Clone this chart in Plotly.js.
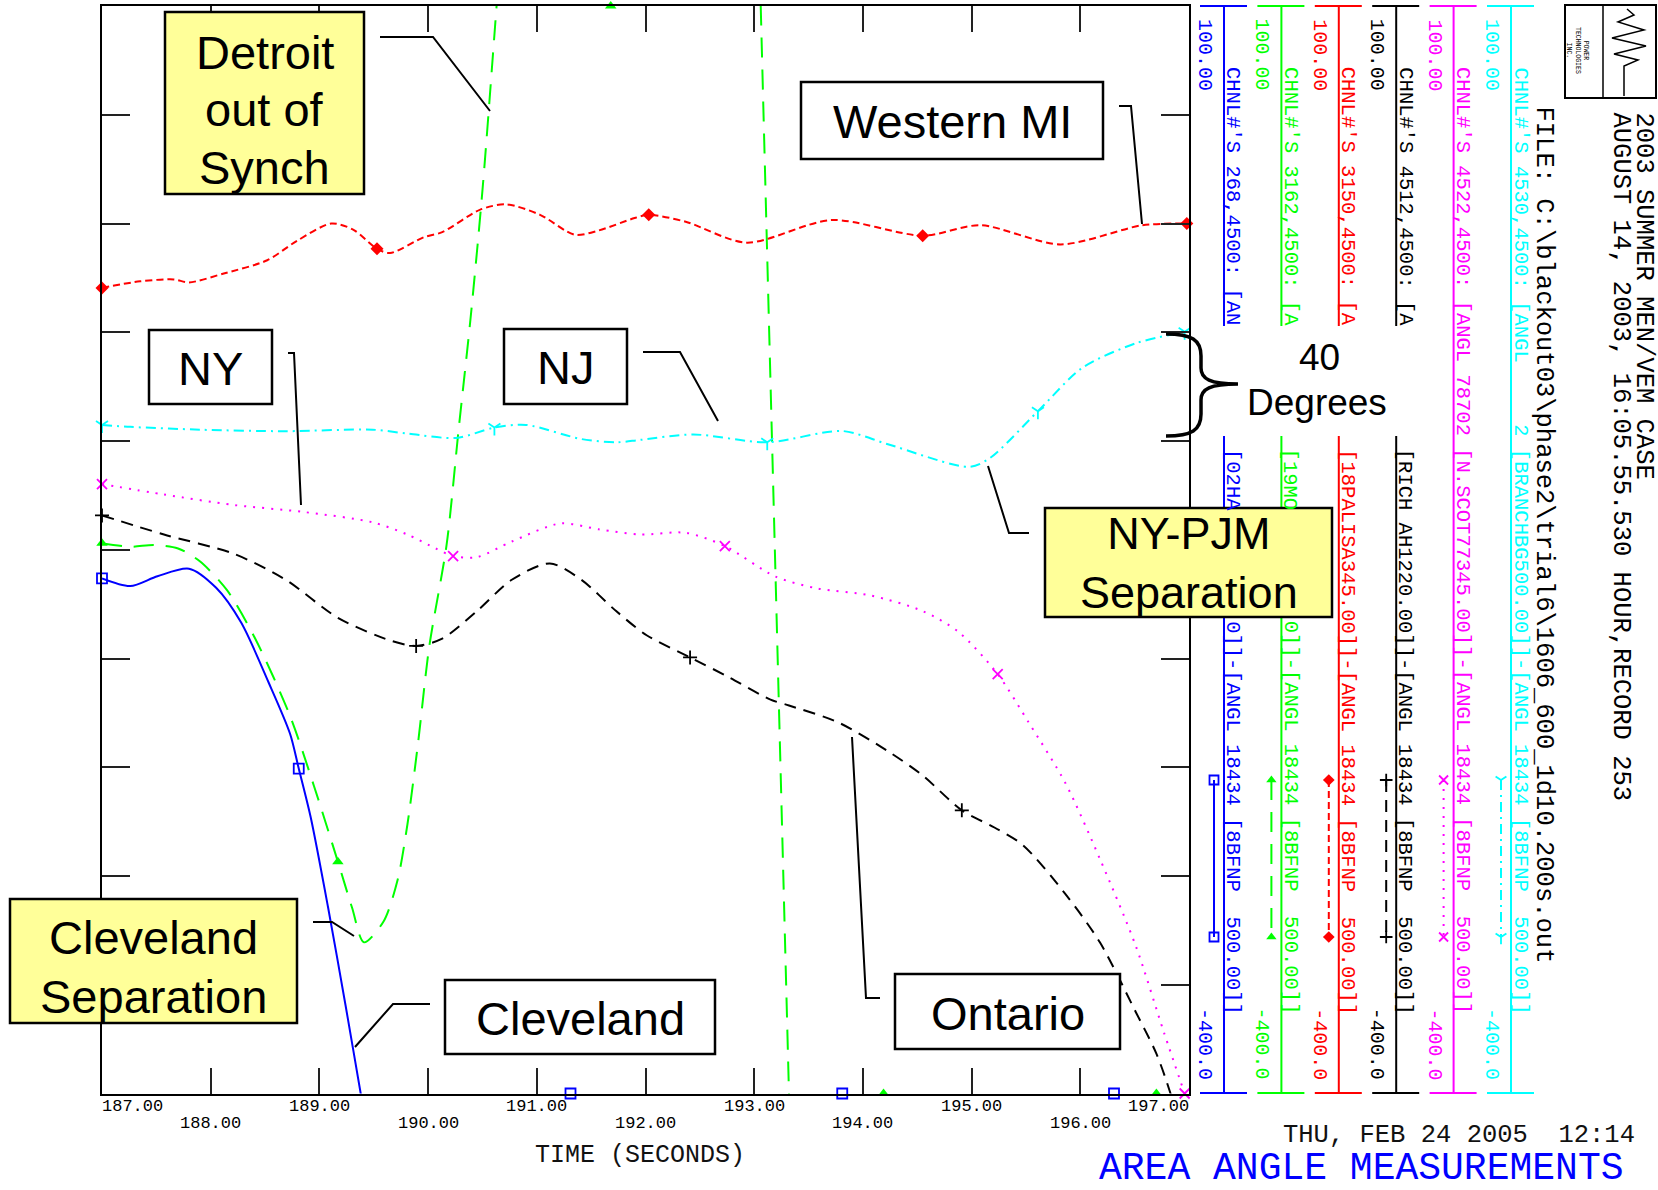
<!DOCTYPE html>
<html>
<head>
<meta charset="utf-8">
<title>Area Angle Measurements</title>
<script src="https://cdn.plot.ly/plotly-3.0.1.min.js"></script>
<style>
  html, body { margin: 0; padding: 0; background: #ffffff; }
  #plot { width: 1658px; height: 1190px; }
</style>
</head>
<body>
<div id="plot"></div>
<script>
// ---------- time axis (seconds) ----------
const timeTicks = [187, 188, 189, 190, 191, 192, 193, 194, 195, 196, 197];
const angleRange = [-400, 100];

// ---------- bus angle channels: time (s) / angle (deg) ----------
// Cleveland  (CHNL 268)
const clevelandT = [187.00, 187.26, 187.51, 187.80, 188.05, 188.28, 188.53, 188.73, 188.81, 188.92, 189.08, 189.24, 189.38, 189.50, 190.30, 191.31, 193.81, 196.31, 197.00];
const clevelandV = [-163.2, -166.7, -162.2, -158.7, -167.5, -183.5, -210.7, -234.6, -250.6, -273.0, -314.5, -359.3, -400.0, -435, -560, -650, -820, -950, -980];
const clevelandMarks = [187.00, 188.81, 191.31, 193.81, 196.31];

// Detroit  (CHNL 3162)
const detroitT = [187.00, 187.26, 187.48, 187.70, 187.90, 188.15, 188.41, 188.73, 188.95, 189.17, 189.30, 189.41, 189.59, 189.72, 189.81, 189.91, 190.01, 190.17, 190.28, 190.39, 190.50, 190.63, 190.90, 191.68, 192.50, 192.98, 193.06, 193.19, 193.32, 193.40, 194.19, 196.70, 197.00];
const detroitV = [-147.0, -148.6, -147.8, -149.4, -155.3, -168.6, -190.9, -226.4, -258.6, -293.4, -314.5, -330.5, -320.9, -301.7, -276.2, -237.8, -194.7, -147.8, -95.1, -43.9, 15.2, 100.0, 280, 330, 320, 254, 100.0, -150, -400.0, -554, -700, -900, -930];
const detroitMarks = [187.00, 189.17, 191.68, 194.19, 196.70];

// Western MI  (CHNL 3150)
const westernMiT = [187.00, 187.35, 187.66, 187.80, 188.12, 188.52, 188.79, 189.11, 189.31, 189.53, 189.65, 189.96, 190.13, 190.48, 190.72, 191.03, 191.35, 191.57, 191.90, 192.03, 192.37, 192.93, 193.71, 194.55, 195.08, 195.82, 196.57, 196.98];
const westernMiV = [-29.6, -26.6, -25.7, -27.1, -23.0, -16.9, -8.1, 0.0, -2.8, -11.6, -13.6, -6.3, -4.0, 6.4, 8.8, 4.0, -5.2, -3.2, 2.5, 4.0, 0.8, -8.8, 1.6, -5.6, -0.8, -9.6, -0.8, 0.0];
const westernMiMarks = [187.00, 189.53, 192.03, 194.55, 196.98];

// Ontario  (CHNL 4512)
const ontarioT = [187.00, 187.57, 188.21, 188.69, 189.17, 189.65, 189.89, 190.13, 190.45, 190.77, 191.12, 191.41, 191.73, 192.01, 192.41, 192.76, 193.15, 193.32, 193.77, 194.23, 194.55, 194.91, 195.21, 195.47, 195.86, 196.18, 196.51, 196.70, 196.83, 197.00];
const ontarioV = [-134.2, -143.0, -151.8, -163.8, -181.3, -191.7, -194.2, -190.9, -178.2, -163.8, -156.3, -163.8, -178.2, -189.3, -199.5, -208.4, -218.9, -221.6, -229.3, -242.6, -253.8, -269.8, -277.7, -285.7, -308.1, -330.5, -362.5, -381.7, -400.0, -430];
const ontarioMarks = [187.00, 189.89, 192.41, 194.91];

// NY  (CHNL 4522)
const nyT = [187.00, 187.57, 188.21, 188.85, 189.49, 189.81, 190.07, 190.23, 190.45, 190.77, 191.22, 191.57, 191.95, 192.37, 192.73, 193.19, 193.58, 194.07, 194.55, 194.88, 195.24, 195.53, 195.86, 196.18, 196.51, 196.77, 196.96];
const nyV = [-119.8, -124.6, -129.4, -132.6, -137.4, -143.0, -149.4, -152.9, -153.4, -146.2, -137.9, -140.6, -143.0, -142.2, -148.3, -162.2, -167.8, -171.0, -178.2, -187.8, -207.2, -229.8, -257.0, -292.1, -332.1, -372.0, -400.0];
const nyMarks = [187.00, 190.23, 192.73, 195.24, 196.96];

// NJ  (CHNL 4530)
const njT = [187.00, 187.26, 187.90, 188.69, 189.49, 189.81, 190.26, 190.61, 190.90, 191.41, 191.73, 191.95, 192.44, 193.12, 193.81, 194.23, 194.98, 195.17, 195.61, 196.02, 196.51, 196.96];
const njV = [-92.6, -93.5, -94.8, -95.5, -94.8, -96.6, -98.6, -93.8, -92.6, -99.1, -100.6, -99.5, -97.0, -100.6, -95.4, -101.5, -111.9, -107.8, -86.3, -66.3, -55.1, -49.8];
const njMarks = [187.00, 190.61, 193.12, 195.61, 196.96];

// ---------- channel styling and scale captions ----------
const channelColors  = ['#0000ff', '#00ff00', '#ff0000', '#000000', '#ff00ff', '#00ffff'];
const channelDash    = ['solid', '20px,12px', '7px,4px', '12px,8px', '2px,7px', '10px,5px,2px,5px'];
const channelSymbols = ['square-open', 'triangle-up', 'diamond', 'cross-thin-open', 'x-thin-open', 'y-down-open'];
const scaleTopLabel = '100.00';
const scaleBottomLabel = '-400.0';
const NB = '\u00a0';
const tailCommon = '-[ANGL 18434 [8BFNP' + NB + NB + '500.00]]';
const channelHeads = [
  "CHNL#'S 268,4500: [AN",
  "CHNL#'S 3162,4500: [A",
  "CHNL#'S 3150,4500: [A",
  "CHNL#'S 4512,4500: [A",
  "CHNL#'S 4522,4500: [ANGL 78702 [N.SCOT77345.00]]" + tailCommon,
  "CHNL#'S 4530,4500: [ANGL" + NB + NB + NB + NB + NB + "2 [BRANCHBG500.00]]" + tailCommon
];
// pieces of the lower caption: [text, character offset]
const channelTails = [
  [['[02HA', 0], ['0]]' + tailCommon, 14]],
  [['[19MO', 0], ['0]]' + tailCommon, 14]],
  [['[18PALISA345.00]]' + tailCommon, 0]],
  [['[RICH AH1220.00]]' + tailCommon, 0]],
  [],
  []
];

// ---------- header / footer text ----------
const headerLines = [
  '2003 SUMMER MEN/VEM CASE',
  'AUGUST 14, 2003, 16:05.55.530 HOUR,RECORD 253',
  'FILE: C:\\blackout03\\phase2\\trial6\\1606_600_1d10.200s.out'
];
const footerDate = 'THU, FEB 24 2005' + NB + NB + '12:14';
const chartTitle = 'AREA ANGLE MEASUREMENTS';
const xTitle = 'TIME (SECONDS)';
const logoText = 'POWER<br>TECHNOLOGIES<br>INC.';

// ---------- callouts (one text block per box) ----------
const callouts = [
  { text: 'Detroit', y: 52.6, size: 47, box: [165, 12, 364, 194], fill: '#ffff99', leader: [[380, 37], [433, 37], [490, 111]] },
  { text: 'out of', y: 109.5, size: 47, box: null },
  { text: 'Synch', y: 167.3, size: 47, box: null },
  { text: 'Western MI', y: 121, size: 47, box: [801, 82, 1103, 159], fill: '#ffffff', leader: [[1119, 106], [1131, 106], [1142, 224]] },
  { text: 'NY', y: 368, size: 47, box: [149, 330, 272, 404], fill: '#ffffff', leader: [[288, 353], [294, 353], [301, 505]] },
  { text: 'NJ', y: 367, size: 47, box: [504, 329, 627, 404], fill: '#ffffff', leader: [[643, 352], [680, 352], [718, 421]] },
  { text: 'NY-PJM<br>Separation', y: 563, size: 45, box: [1045, 508, 1332, 617], fill: '#ffff99', leader: [[1029, 533], [1009, 533], [988, 466]] },
  { text: 'Cleveland', y: 937, size: 47, box: [10, 899, 297, 1023], fill: '#ffff99', leader: [[313, 922], [332, 922], [354, 936]] },
  { text: 'Separation', y: 996, size: 47, box: null },
  { text: 'Cleveland', y: 1018, size: 47, box: [445, 980, 715, 1054], fill: '#ffffff', leader: [[430, 1004], [393, 1004], [355, 1047]] },
  { text: 'Ontario', y: 1013, size: 47, box: [895, 974, 1120, 1049], fill: '#ffffff', leader: [[880, 998], [866, 998], [852, 737]] }
];

// ---------- geometry of the page (pixels) ----------
const FW = 1658, FH = 1190;
const PL = 102, PR = 1189, PT = 6, PB = 1093.5;
const colX0 = 1224, colStep = 57.4;
const MONO = 'Liberation Mono, Courier New, DejaVu Sans Mono, monospace';
const SANS = 'Liberation Sans, Arial, Helvetica, sans-serif';
const capSize = 20.5, capW = capSize * 0.6;

const series = [
  { t: clevelandT, v: clevelandV, marks: clevelandMarks },
  { t: detroitT, v: detroitV, marks: detroitMarks },
  { t: westernMiT, v: westernMiV, marks: westernMiMarks },
  { t: ontarioT, v: ontarioV, marks: ontarioMarks },
  { t: nyT, v: nyV, marks: nyMarks },
  { t: njT, v: njV, marks: njMarks }
];

const clampAngle = v => Math.max(angleRange[0], Math.min(angleRange[1], v));

function markerStyle(i, size) {
  const c = channelColors[i];
  const filled = channelSymbols[i] === 'triangle-up' || channelSymbols[i] === 'diamond';
  return {
    symbol: channelSymbols[i], size: size, color: c,
    line: { color: c, width: filled ? 0 : 1.8 }
  };
}

const traces = [];
series.forEach((s, i) => {
  traces.push({
    x: s.t, y: s.v, xaxis: 'x', yaxis: 'y', type: 'scatter', mode: 'lines',
    line: { color: channelColors[i], width: 2, dash: channelDash[i], shape: 'spline', smoothing: 0.8 },
    hoverinfo: 'skip', showlegend: false
  });
  // off-scale markers are pinned to the frame edge
  traces.push({
    x: s.marks, y: s.marks.map(t => clampAngle(s.v[s.t.indexOf(t)])),
    xaxis: 'x', yaxis: 'y', type: 'scatter', mode: 'markers',
    marker: markerStyle(i, 10), cliponaxis: false, hoverinfo: 'skip', showlegend: false
  });
});

// ---------- overlay drawing helpers (pixel space on x2/y2) ----------
const shapes = [];
const annotations = [];
function seg(x0, y0, x1, y1, color, width) {
  return { type: 'line', xref: 'x2', yref: 'y2', x0, y0, x1, y1, layer: 'above', line: { color, width } };
}
function poly(pts, color, width) {
  const d = pts.map((p, k) => (k ? 'L' : 'M') + p[0] + ',' + p[1]).join(' ');
  return { type: 'path', xref: 'x2', yref: 'y2', path: d, layer: 'above', line: { color, width } };
}
function rot(text, x, y, yanchor, color, size) {
  return { text, x, y, xref: 'x2', yref: 'y2', xanchor: 'center', yanchor, textangle: 90,
           showarrow: false, borderpad: 0, borderwidth: 0, font: { family: MONO, size, color } };
}
function label(text, x, y, xanchor, size, color, family) {
  return { text, x, y, xref: 'x2', yref: 'y2', xanchor, yanchor: 'middle', showarrow: false,
           borderpad: 0, borderwidth: 0, font: { family, size, color } };
}

// channel scale columns at the right of the frame
channelColors.forEach((c, i) => {
  const x = colX0 + i * colStep;
  const spans = i < 4 ? [[6, 326], [436, 1093]] : [[6, 1093]];
  spans.forEach(g => shapes.push(seg(x, g[0], x, g[1], c, 2)));
  shapes.push(seg(x - 24, 6, x + 23, 6, c, 2));
  shapes.push(seg(x - 24, 1093, x + 23, 1093, c, 2));
  annotations.push(rot(scaleTopLabel, x - 19, 19, 'top', c, 20));
  annotations.push(rot(scaleBottomLabel, x - 19, 1080, 'bottom', c, 20));
  annotations.push(rot(channelHeads[i], x + 9, 67, 'top', c, capSize));
  channelTails[i].forEach(p => annotations.push(rot(p[0], x + 9, 449 + p[1] * capW, 'top', c, capSize)));
  // line-style key
  traces.push({
    x: [x - 10, x - 10], y: [780, 937], xaxis: 'x2', yaxis: 'y2', type: 'scatter', mode: 'lines+markers',
    line: { color: c, width: 2, dash: channelDash[i] }, marker: markerStyle(i, 9),
    cliponaxis: false, hoverinfo: 'skip', showlegend: false
  });
});

// "40 Degrees" brace
shapes.push({
  type: 'path', xref: 'x2', yref: 'y2', layer: 'above', line: { color: '#000000', width: 3.5 },
  path: 'M1166,334 C1192,334 1201,340 1201,356 L1201,368 C1201,379 1210,384 1238,384 ' +
        'C1210,384 1201,389 1201,400 L1201,414 C1201,430 1192,436 1166,436'
});
annotations.push(label('40', 1319, 357, 'center', 37, '#000000', SANS));
annotations.push(label('Degrees', 1317, 402, 'center', 37, '#000000', SANS));

// company logo block
shapes.push({ type: 'rect', xref: 'x2', yref: 'y2', x0: 1565, y0: 5, x1: 1656, y1: 98, layer: 'above',
              line: { color: '#000000', width: 2 }, fillcolor: 'rgba(0,0,0,0)' });
shapes.push(seg(1603, 5, 1603, 98, '#000000', 1.5));
shapes.push({
  type: 'path', xref: 'x2', yref: 'y2', layer: 'above', line: { color: '#000000', width: 1.5 },
  path: 'M1624,96 L1624,66 L1638,60 L1614,54 L1646,46 L1612,38 L1644,30 L1618,22 L1634,15 L1627,9'
});
annotations.push({ text: logoText, x: 1577, y: 50, xref: 'x2', yref: 'y2', xanchor: 'center', yanchor: 'middle',
                   textangle: 90, showarrow: false, font: { family: MONO, size: 6.5, color: '#000000' } });

// header text, rotated
annotations.push(rot(headerLines[0], 1643, 112, 'top', '#000000', 25.5));
annotations.push(rot(headerLines[1], 1620, 112, 'top', '#000000', 25.5));
annotations.push(rot(headerLines[2], 1543, 106, 'top', '#000000', 25.5));

// footer
annotations.push(label(footerDate, 1635, 1135, 'right', 25.5, '#111111', MONO));
annotations.push(label(chartTitle, 1099, 1168, 'left', 38, '#0000ff', MONO));
annotations.push(label(xTitle, 640, 1155, 'center', 25, '#111111', MONO));

// time tick labels, alternating rows
timeTicks.forEach((t, k) => {
  const anchor = k === 0 ? 'left' : (k === timeTicks.length - 1 ? 'right' : 'center');
  annotations.push({ text: t.toFixed(2), x: t, xref: 'x', y: k % 2 === 0 ? 1106 : 1123, yref: 'y2',
                     xanchor: anchor, yanchor: 'middle', showarrow: false, borderpad: 0, borderwidth: 0,
                     font: { family: MONO, size: 17, color: '#000000' } });
});

// callout leaders, then boxes, then their text
callouts.forEach(c => { if (c.box) shapes.push(poly(c.leader, '#000000', 2)); });
let cx = 0;
callouts.forEach(c => {
  if (c.box) {
    shapes.push({ type: 'rect', xref: 'x2', yref: 'y2', x0: c.box[0], y0: c.box[1], x1: c.box[2], y1: c.box[3],
                  layer: 'above', fillcolor: c.fill, line: { color: '#000000', width: 2.5 } });
    cx = (c.box[0] + c.box[2]) / 2;
  }
  annotations.push(label(c.text, cx, c.y, 'center', c.size, '#000000', SANS));
});

const layout = {
  width: FW, height: FH,
  margin: { l: 0, r: 0, t: 0, b: 0, pad: 0 },
  paper_bgcolor: '#ffffff', plot_bgcolor: 'rgba(0,0,0,0)',
  showlegend: false,
  xaxis: {
    domain: [PL / FW, PR / FW], range: [timeTicks[0], timeTicks[timeTicks.length - 1]],
    tickmode: 'array', tickvals: timeTicks, ticks: 'inside', ticklen: 26, tickwidth: 2, tickcolor: '#222222',
    showticklabels: false, showline: true, linecolor: '#000000', linewidth: 2, mirror: 'ticks',
    showgrid: false, zeroline: false, fixedrange: true
  },
  yaxis: {
    domain: [1 - PB / FH, 1 - PT / FH], range: angleRange, tick0: 0, dtick: 50,
    ticks: 'inside', ticklen: 28, tickwidth: 2, tickcolor: '#222222',
    showticklabels: false, showline: true, linecolor: '#000000', linewidth: 2, mirror: 'ticks',
    showgrid: false, zeroline: false, fixedrange: true
  },
  xaxis2: { domain: [0, 1], range: [0, FW], visible: false, anchor: 'y2', fixedrange: true },
  yaxis2: { domain: [0, 1], range: [FH, 0], visible: false, anchor: 'x2', fixedrange: true },
  shapes: shapes,
  annotations: annotations
};

Plotly.newPlot('plot', traces, layout, { staticPlot: true, displayModeBar: false });
</script>
</body>
</html>
